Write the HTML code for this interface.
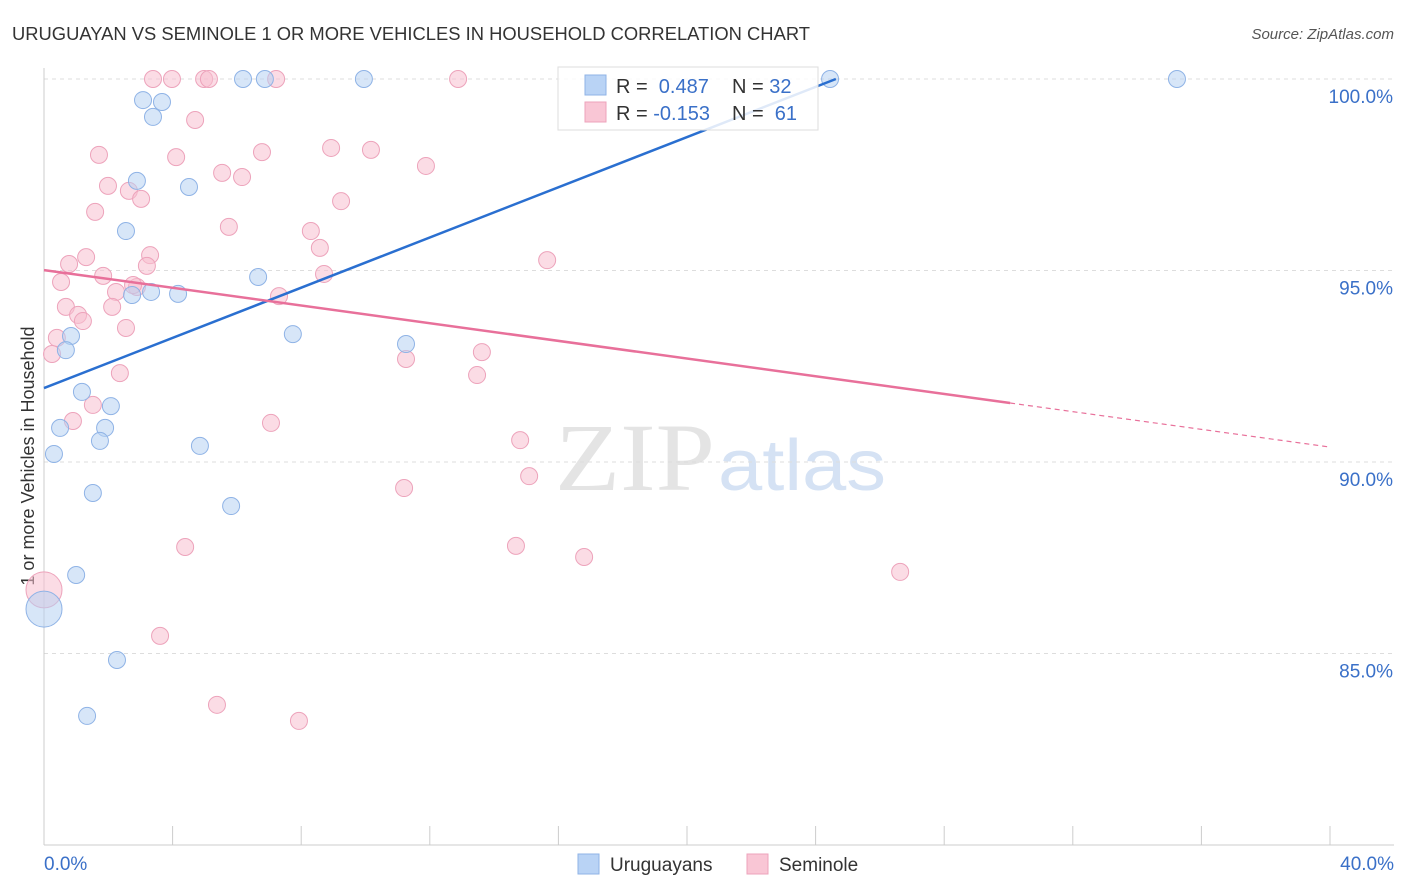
<!DOCTYPE html>
<html><head><meta charset="utf-8"><style>
body{margin:0;background:#fff;font-family:"Liberation Sans",sans-serif;}
svg{display:block}
</style></head><body>
<svg id="c" width="1406" height="892">
<text x="12" y="40" font-size="18" fill="#333" textLength="798" lengthAdjust="spacingAndGlyphs">URUGUAYAN VS SEMINOLE 1 OR MORE VEHICLES IN HOUSEHOLD CORRELATION CHART</text>
<text x="1394" y="39" font-size="15" fill="#555" font-style="italic" text-anchor="end">Source: ZipAtlas.com</text>
<text x="34" y="456" font-size="18" fill="#333" text-anchor="middle" transform="rotate(-90 34 456)">1 or more Vehicles in Household</text>
<text x="555" y="490" font-size="96" fill="#e4e4e4" font-family="Liberation Serif,serif" textLength="160" lengthAdjust="spacingAndGlyphs">ZIP</text>
<text x="718" y="490" font-size="72" fill="#d5e2f4" textLength="168" lengthAdjust="spacingAndGlyphs">atlas</text>
<g id="grid"></g><g id="pts"></g><g id="lines"></g>
<g>
<rect x="558" y="67" width="260" height="63" fill="#fff" fill-opacity="0.85" stroke="#ddd"/>
<rect x="585" y="75" width="21" height="20" fill="#b9d3f5" stroke="#8fb3e6"/>
<rect x="585" y="102" width="21" height="20" fill="#f9c6d5" stroke="#eda3bb"/>
<text x="616" y="93" font-size="20" fill="#333">R = <tspan fill="#3a70c8">&#160;0.487</tspan><tspan x="732">N = </tspan><tspan fill="#3a70c8">32</tspan></text>
<text x="616" y="120" font-size="20" fill="#333">R = <tspan fill="#3a70c8">-0.153</tspan><tspan x="732">N = </tspan><tspan fill="#3a70c8">&#160;61</tspan></text>
</g>
<g>
<rect x="578" y="854" width="21" height="20" fill="#b9d3f5" stroke="#8fb3e6"/>
<text x="610" y="871" font-size="19" fill="#333">Uruguayans</text>
<rect x="747" y="854" width="21" height="20" fill="#f9c6d5" stroke="#eda3bb"/>
<text x="779" y="871" font-size="19" fill="#333">Seminole</text>
</g>
</svg>
<script>
const yTicks=[100,95,90,85];
const yTickLabels=["100.0%","95.0%","90.0%","85.0%"];
const xTicks=[0,4,8,12,16,20,24,28,32,36,40];
const blueX=[24.45,6.19,6.87,9.95,35.24,3.08,3.67,3.39,2.89,4.51,2.55,6.66,2.74,3.33,4.17,0.84,0.68,7.74,11.26,1.18,2.08,0.50,1.90,1.74,0.31,4.85,1.52,5.82,1.00,0,2.27,1.34];
const blueY=[100,100,100,100,100,99.45,99.40,99.01,97.34,97.18,96.03,94.83,94.36,94.44,94.39,93.29,92.92,93.34,93.08,91.83,91.46,90.89,90.89,90.55,90.21,90.42,89.19,88.85,87.05,86.16,84.83,83.37];
const pinkX=[3.39,3.98,4.98,5.13,7.22,12.88,4.70,1.71,4.11,6.78,8.93,10.17,11.88,5.54,6.16,1.99,2.64,3.02,9.24,1.59,5.75,8.30,8.58,3.30,1.31,0.78,3.20,15.65,1.84,8.71,0.53,2.89,2.24,2.77,7.31,0.68,2.12,1.06,1.21,2.55,0.40,0.25,13.62,11.26,2.36,13.47,1.52,0.90,7.06,14.81,15.09,11.20,4.39,14.68,16.80,26.63,0,3.61,5.38,7.93];
const pinkY=[100,100,100,100,100,100,98.93,98.02,97.96,98.09,98.20,98.15,97.73,97.55,97.44,97.21,97.08,96.87,96.81,96.53,96.14,96.03,95.59,95.40,95.35,95.17,95.12,95.27,94.86,94.91,94.70,94.57,94.44,94.62,94.33,94.05,94.05,93.84,93.68,93.50,93.24,92.82,92.87,92.69,92.32,92.27,91.49,91.07,91.02,90.57,89.63,89.32,87.78,87.81,87.52,87.13,86.66,85.46,83.66,83.24];
const blueBig=[29], pinkBig=[56];
const blueLine=[0,91.93,24.63,100];
const pinkLine=[0,95.01,30.05,91.54,40,90.39];
const NS='http://www.w3.org/2000/svg';
const sx=v=>44+v/40*1286, sy=v=>79+(100-v)*38.3;
function mk(p,t,a){const e=document.createElementNS(NS,t);for(const k in a)e.setAttribute(k,a[k]);p.appendChild(e);return e;}
const g=document.getElementById('grid');
yTicks.forEach((t,i)=>{
 const l=mk(g,'line',{x1:44,x2:1394,y1:sy(t),y2:sy(t),stroke:'#ddd','stroke-dasharray':'4,4'});
 
 
 const tx=mk(g,'text',{x:1393,y:sy(t)+24,'font-size':19,fill:'#3a70c8','text-anchor':'end'});
 tx.textContent=yTickLabels[i];
 
 
});
mk(g,'line',{x1:44,x2:44,y1:68,y2:845,stroke:'#ccc'});
mk(g,'line',{x1:44,x2:1394,y1:845,y2:845,stroke:'#ccc'});
xTicks.forEach(t=>{const l=mk(g,'line',{x1:sx(t),x2:sx(t),y1:826,y2:845,stroke:'#ccc'});
 
 });
let a=mk(g,'text',{x:44,y:870,'font-size':19,fill:'#3a70c8'});a.textContent='0.0%';


a=mk(g,'text',{x:1394,y:870,'font-size':19,fill:'#3a70c8','text-anchor':'end'});a.textContent='40.0%';


const P=document.getElementById('pts');
function pts(X,Y,big,fill,stroke,name){X.forEach((x,i)=>{const c=mk(P,'circle',{cx:sx(x),cy:sy(Y[i]),r:big.includes(i)?18:8.5,fill:fill,'fill-opacity':0.55,stroke:stroke,'stroke-width':1});
 
 });}
pts(pinkX,pinkY,pinkBig,'#f7bfd0','#eda3bb','seminole-point');
pts(blueX,blueY,blueBig,'#b7d1f2','#8fb3e6','uruguayan-point');
const L=document.getElementById('lines');
let ln=mk(L,'line',{x1:sx(blueLine[0]),y1:sy(blueLine[1]),x2:sx(blueLine[2]),y2:sy(blueLine[3]),stroke:'#2a6fd0','stroke-width':2.5});


ln=mk(L,'line',{x1:sx(pinkLine[0]),y1:sy(pinkLine[1]),x2:sx(pinkLine[2]),y2:sy(pinkLine[3]),stroke:'#e8709a','stroke-width':2.5});


ln=mk(L,'line',{x1:sx(pinkLine[2]),y1:sy(pinkLine[3]),x2:sx(pinkLine[4]),y2:sy(pinkLine[5]),stroke:'#e8709a','stroke-width':1.2,'stroke-dasharray':'5,4'});


</script>
</body></html>
